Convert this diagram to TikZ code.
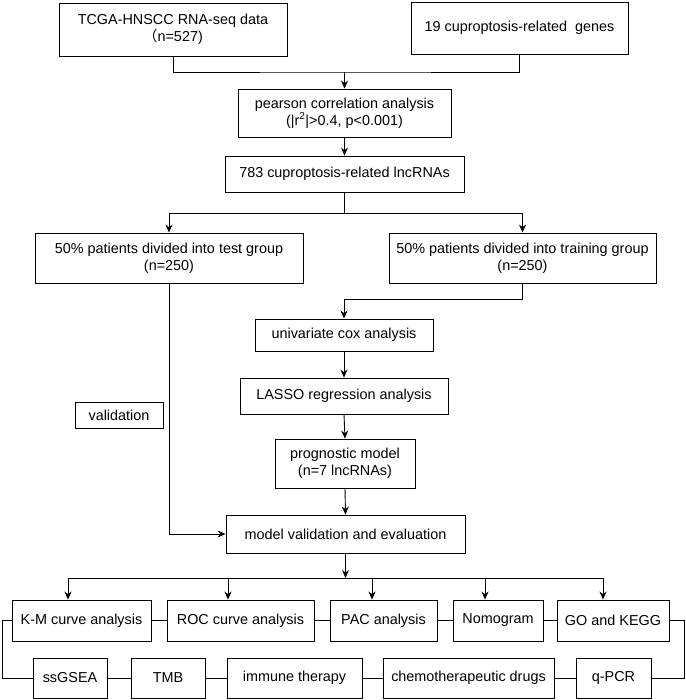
\documentclass[tikz,border=0pt]{standalone}
\usepackage{fontspec}
\setmainfont{Liberation Sans}
\newfontfamily\cjk{Noto Sans CJK SC}
\usetikzlibrary{arrows.meta}
\begin{document}
\begin{tikzpicture}[x=1pt,y=-1pt,
  box/.style={draw,line width=0.9pt,inner sep=0pt,align=center,font=\fontsize{14.4}{17}\selectfont},
  conn/.style={line width=0.9pt},
  arr/.style={line width=0.9pt,-{Stealth[length=8pt,width=7pt]}}]
\useasboundingbox (0,0) rectangle (685,700);
\node[box,minimum width=228pt,minimum height=53pt] (tcga) at (173,29.5) {TCGA-HNSCC RNA-seq data\\{\cjk（}n=527)};
\node[box,minimum width=217pt,minimum height=52pt] (genes) at (519.5,28) {19 cuproptosis-related\ \ genes};
\node[box,minimum width=213pt,minimum height=48pt] (pearson) at (344.5,113) {pearson correlation analysis\\(|r\textsuperscript{2}|>0.4, p<0.001)};
\node[box,minimum width=239pt,minimum height=36pt] (lnc) at (344.5,174) {783 cuproptosis-related lncRNAs};
\node[box,minimum width=268pt,minimum height=50pt] (test) at (169,258) {50\% patients divided into test group\\(n=250)};
\node[box,minimum width=267pt,minimum height=50pt] (train) at (522.5,258) {50\% patients divided into training group\\(n=250)};
\node[box,minimum width=178pt,minimum height=32pt] (uni) at (344,335) {univariate cox analysis};
\node[box,minimum width=208pt,minimum height=36pt] (lasso) at (344,396) {LASSO regression analysis};
\node[box,minimum width=140pt,minimum height=49pt] (prog) at (345,463.5) {prognostic model\\(n=7 lncRNAs)};
\node[box,minimum width=239pt,minimum height=38pt] (model) at (345.5,534) {model validation and evaluation};
\node[box,minimum width=88pt,minimum height=26pt] (valid) at (119,415) {validation};
% row 1
\node[box,minimum width=139pt,minimum height=41pt] (km) at (81.5,620.5) {K-M curve analysis};
\node[box,minimum width=147pt,minimum height=41pt] (roc) at (240.5,620.5) {ROC curve analysis};
\node[box,minimum width=107pt,minimum height=41pt] (pac) at (383.5,620.5) {PAC analysis};
\node[box,minimum width=90pt,minimum height=41pt] (nomo) at (498,620.5) {Nomogram};
\node[box,minimum width=112pt,minimum height=41pt] (go) at (613,620.5) {GO and KEGG};
% row 2
\node[box,minimum width=74pt,minimum height=40pt] (ssgsea) at (70,678) {ssGSEA};
\node[box,minimum width=74pt,minimum height=40pt] (tmb) at (168,678) {TMB};
\node[box,minimum width=135pt,minimum height=40pt] (immune) at (294.5,678) {immune therapy};
\node[box,minimum width=171pt,minimum height=40pt] (chemo) at (468.5,678) {chemotherapeutic drugs};
\node[box,minimum width=75pt,minimum height=40pt] (qpcr) at (613.5,678) {q-PCR};
% connectors
\coordinate (j1) at (344.5,72);
\draw[conn] (tcga.south) |- (j1) -| (genes.south);
\draw[arr] (j1) -- (pearson.north);
\draw[arr] (pearson.south) -- (lnc.north);
\coordinate (s) at (344.5,213);
\draw[conn] (lnc.south) -- (s);
\draw[arr] (s) -| (test.north);
\draw[arr] (s) -| (train.north);
\coordinate (t2) at (344,299);
\draw[arr] (train.south) |- (t2) -- (uni.north);
\draw[arr] (uni.south) -- (lasso.north);
\draw[arr] (lasso.south) -- (prog.north);
\draw[arr] (prog.south) -- (model.north);
\draw[arr] (test.south) |- (model.west);
\coordinate (h) at (345.5,578);
\draw[arr] (model.south) -- (h);
\coordinate (hl) at (68,578);
\coordinate (hr) at (603,578);
\draw[conn] (hl) -- (hr);
\draw[arr] (hl) -- ([xshift=-13.5pt]km.north);
\draw[arr] (hl -| 228,0) -- ([xshift=-12.5pt]roc.north);
\draw[arr] (hl -| 372,0) -- ([xshift=-11.5pt]pac.north);
\draw[arr] (hl -| 485,0) -- ([xshift=-13pt]nomo.north);
\draw[arr] (hr) -- ([xshift=-10pt]go.north);
\draw[conn] (km.east) -- (roc.west);
\draw[conn] (roc.east) -- (pac.west);
\draw[conn] (pac.east) -- (nomo.west);
\draw[conn] (nomo.east) -- (go.west);
\coordinate (lo) at (2,620.5);
\coordinate (ro) at (684,620.5);
\draw[conn] (km.west) -- (lo) |- (ssgsea.west);
\draw[conn] (go.east) -- (ro) |- (qpcr.east);
\draw[conn] (ssgsea.east) -- (tmb.west);
\draw[conn] (tmb.east) -- (immune.west);
\draw[conn] (immune.east) -- (chemo.west);
\draw[conn] (chemo.east) -- (qpcr.west);
\end{tikzpicture}
\end{document}
